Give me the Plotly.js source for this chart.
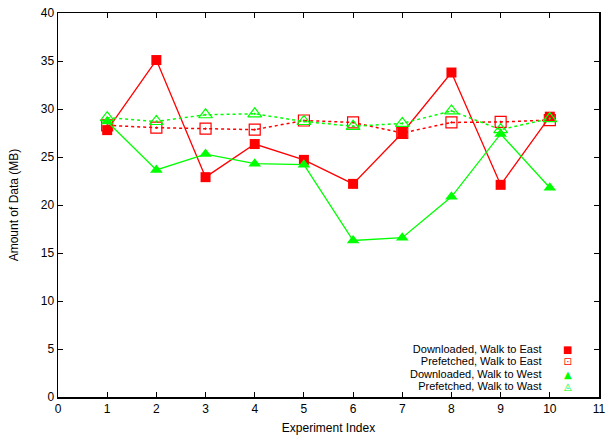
<!DOCTYPE html>
<html><head><meta charset="utf-8">
<script src="https://cdn.plot.ly/plotly-3.0.1.min.js"></script>
<style>html,body{margin:0;padding:0;background:#fff}#c{width:606px;height:435px}</style>
</head><body><div id="c"></div>
<script>
const experiments = [1,2,3,4,5,6,7,8,9,10];
const downloadedEast = [27.8,35.1,22.9,26.35,24.7,22.2,27.5,33.8,22.1,29.2];
const prefetchedEast = [28.3,28.05,27.95,27.85,28.8,28.6,27.5,28.6,28.65,28.85];
const downloadedWest = [28.7,23.65,25.3,24.3,24.2,16.3,16.6,20.85,27.4,21.8];
const prefetchedWest = [29.1,28.7,29.4,29.5,28.7,28.2,28.5,29.8,27.85,29.0];
const seriesNames = ["Downloaded, Walk to East","Prefetched, Walk to East","Downloaded, Walk to West","Prefetched, Walk to Wast"];
const legendGlyphs = ["\u25A0","\u22A1","\u25B2","\u25EC"];
const xTicks = [0,1,2,3,4,5,6,7,8,9,10,11];
const yTicks = [0,5,10,15,20,25,30,35,40];

const red = "#ff0000", green = "#00ff00";
const colors = [red, red, green, green];
const traces = [
  {x:experiments, y:downloadedEast, name:seriesNames[0], mode:"lines+markers",
   line:{color:red,width:1.3}, marker:{symbol:"square",size:10,color:red}},
  {x:experiments, y:prefetchedEast, name:seriesNames[1], mode:"lines+markers",
   line:{color:red,width:1.5,dash:"dot"}, marker:{symbol:"square-open-dot",size:11,color:red,line:{width:1.2}}},
  {x:experiments, y:downloadedWest, name:seriesNames[2], mode:"lines+markers",
   line:{color:green,width:1.3}, marker:{symbol:"triangle-up",size:11,color:green}},
  {x:experiments, y:prefetchedWest, name:seriesNames[3], mode:"lines+markers",
   line:{color:green,width:1.5,dash:"dot"}, marker:{symbol:"triangle-up-open-dot",size:12,color:green,line:{width:1.2}}}
];
const FONT = "Liberation Sans, Arial, sans-serif";
// gnuplot-style key: right-aligned labels, key glyph to their right
const labelBlock = seriesNames.map(n => '<span style="font-size:11px">' + n + '</span>').join('<br>');
const glyphBlock = legendGlyphs.map((g,i) =>
  '<span style="font-size:10px;color:' + colors[i] + '">' + g + '</span>').join('<br>');
const annotations = [
  {xref:"paper", yref:"paper", x:0.8946, y:0.0768, xanchor:"right", yanchor:"middle", align:"right",
   text:labelBlock, showarrow:false, borderpad:0, font:{family:FONT, size:9.5, color:"#000"}},
  {xref:"paper", yref:"paper", x:0.942, y:0.0768, xanchor:"center", yanchor:"middle", align:"center",
   text:glyphBlock, showarrow:false, borderpad:0, font:{family:"DejaVu Sans", size:9.5, color:"#000"}}
];
const axisCommon = {showgrid:false, zeroline:false, showline:true, linecolor:"#000", linewidth:1.5,
  mirror:"ticks", ticks:"inside", ticklen:5, tickcolor:"#000", tickwidth:1,
  tickfont:{family:FONT, size:12, color:"#000"}};
const layout = {
  width:606, height:435, paper_bgcolor:"#fff", plot_bgcolor:"#fff",
  margin:{l:58, r:7, t:13, b:38},
  font:{family:FONT, color:"#000"},
  xaxis:Object.assign({}, axisCommon, {range:[0,11], tickvals:xTicks, ticktext:xTicks.map(String),
    title:{text:"Experiment Index", font:{size:12}, standoff:8}}),
  yaxis:Object.assign({}, axisCommon, {range:[0,40], tickvals:yTicks, ticktext:yTicks.map(String),
    title:{text:"Amount of Data (MB)", font:{size:12}, standoff:19}}),
  showlegend:false,
  annotations:annotations
};
Plotly.newPlot("c", traces, layout, {displayModeBar:false, staticPlot:true});
</script></body></html>
